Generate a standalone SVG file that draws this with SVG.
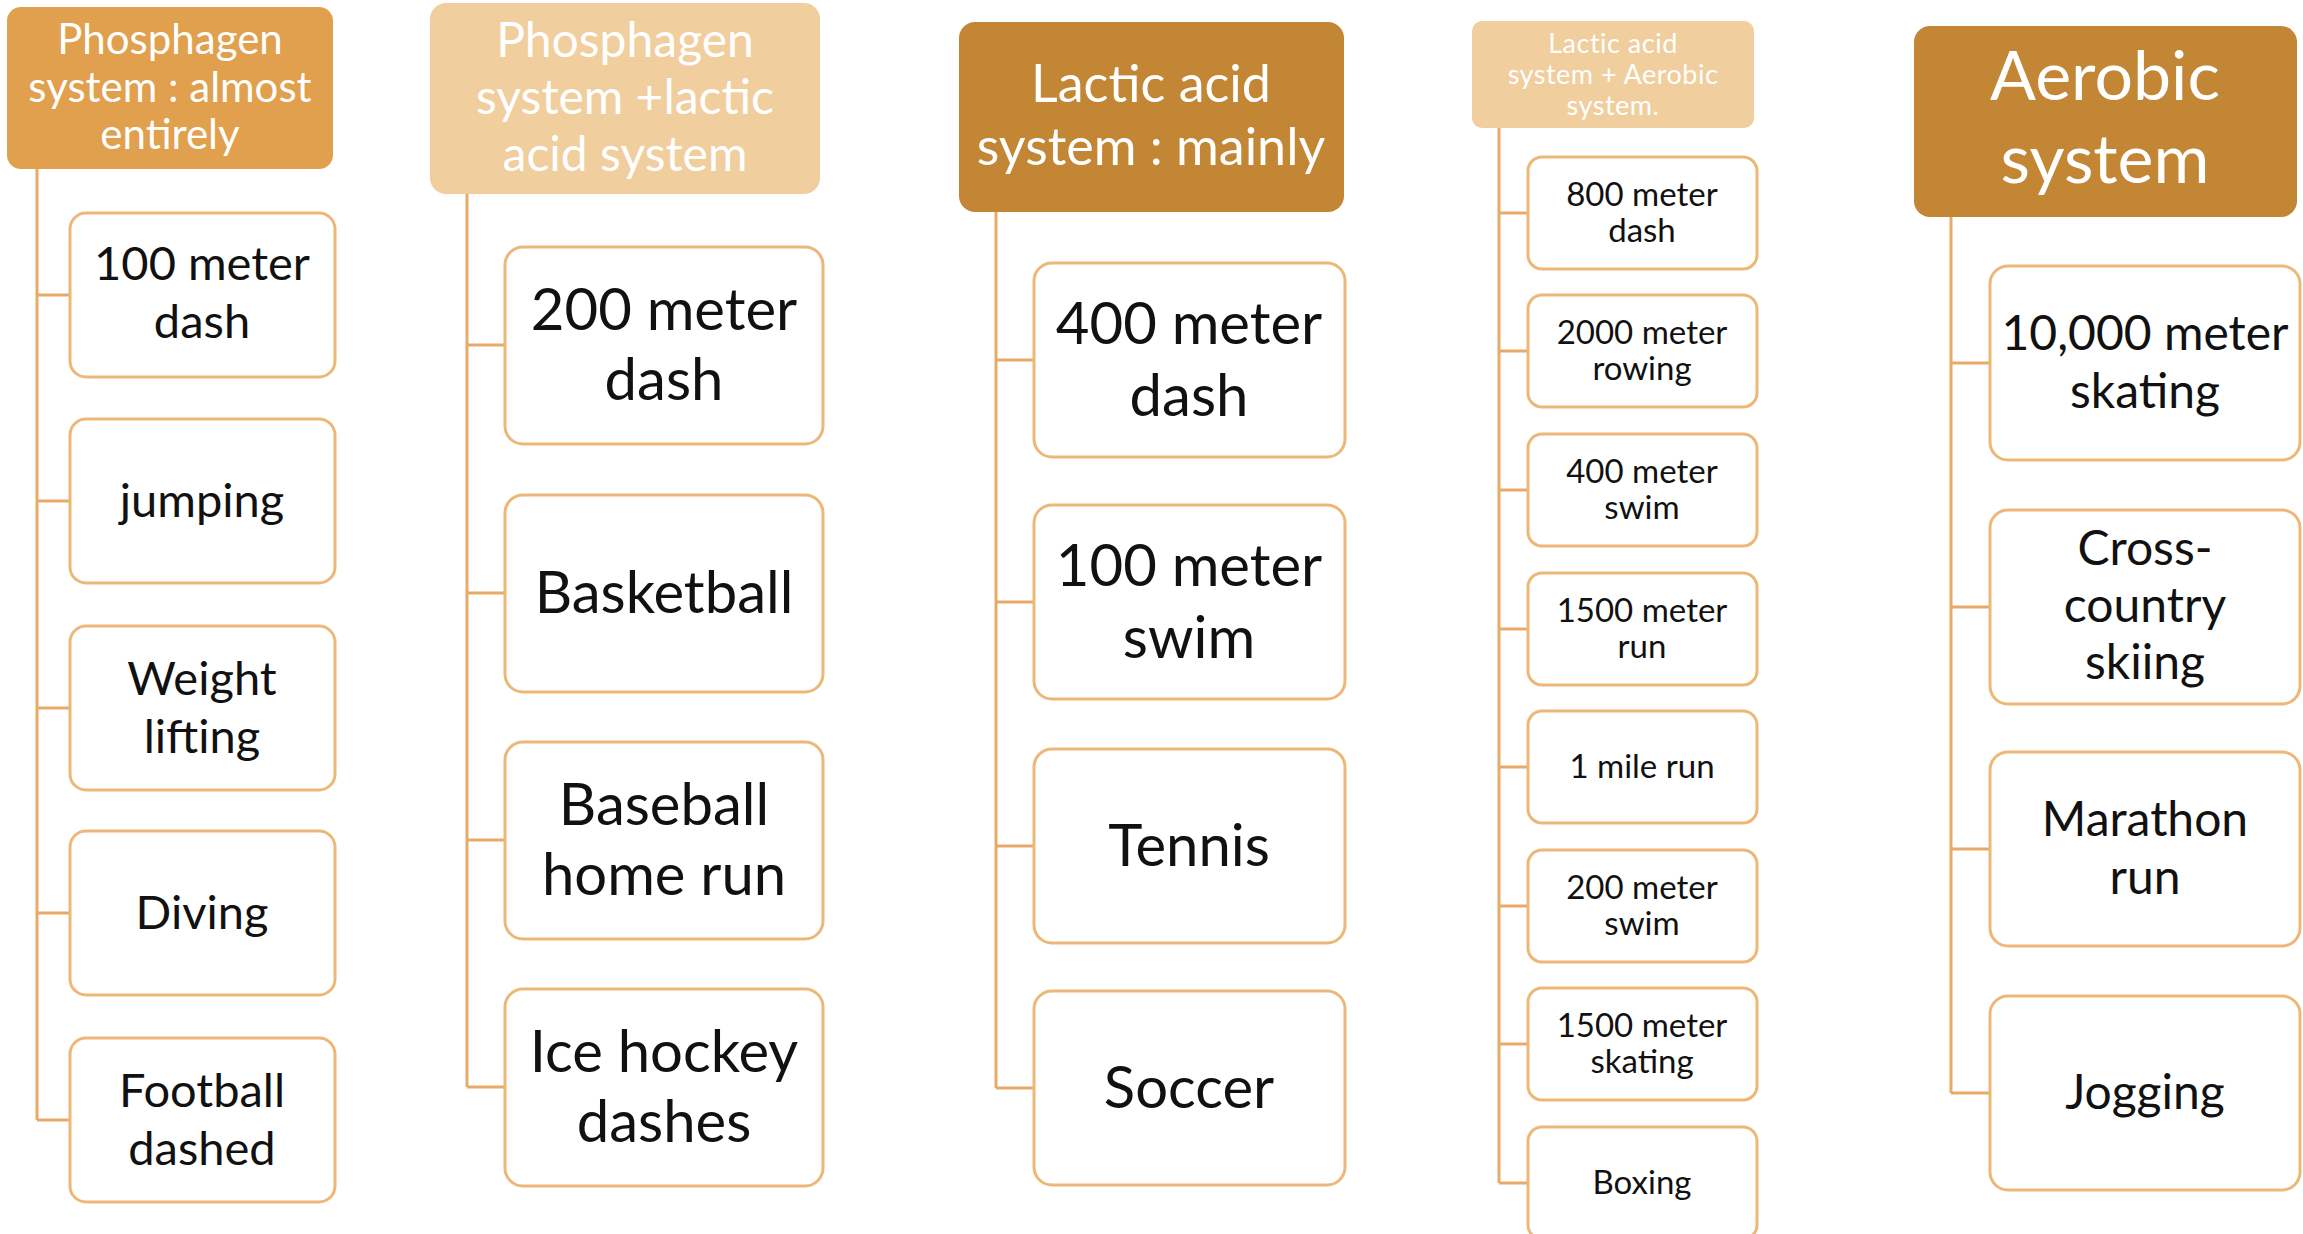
<svg xmlns="http://www.w3.org/2000/svg" width="2303" height="1234" viewBox="0 0 2303 1234">
<style>
.bg{fill:#ffffff}
.h1{fill:#E0A04E}
.hl{fill:#F0CE9E}
.hd{fill:#C28634}
.box{fill:#ffffff;stroke:#EDB877;stroke-width:3}
.con{fill:none;stroke:#E8AA68;stroke-width:3}
.ht{fill:#ffffff;font-family:Lato,"Open Sans","Liberation Sans",sans-serif;text-anchor:middle}
.t{fill:#111111;font-family:Lato,"Open Sans","Liberation Sans",sans-serif;text-anchor:middle}
.c1{font-size:47px}
.c2{font-size:58px}
.c3{font-size:58px}
.c4{font-size:33px}
.c5{font-size:48px}
</style>
<rect class="bg" x="0" y="0" width="2303" height="1234"/>
<g id="connectors">
<path class="con" d="M37 169V1120M37 295H70M37 501H70M37 708H70M37 913H70M37 1120H70"/>
<path class="con" d="M467 194V1087M467 345H505M467 593H505M467 840H505M467 1087H505"/>
<path class="con" d="M996 212V1088M996 360H1034M996 602H1034M996 846H1034M996 1088H1034"/>
<path class="con" d="M1499 128V1183M1499 213H1528M1499 351H1528M1499 490H1528M1499 629H1528M1499 767H1528M1499 906H1528M1499 1044H1528M1499 1183H1528"/>
<path class="con" d="M1951 217V1093M1951 363H1990M1951 607H1990M1951 849H1990M1951 1093H1990"/>
</g>
<g id="h1"><rect class="h1" x="7" y="7" width="326" height="162" rx="14"/>
<text class="ht" font-size="42" x="170" y="54">Phosphagen</text><text class="ht" font-size="42" x="170" y="102">system : almost</text><text class="ht" font-size="42" x="170" y="149">entirely</text></g>
<g id="n1a"><rect class="box" x="70" y="213" width="265" height="164" rx="16"/><text class="t c1" x="202" y="280">100 meter</text><text class="t c1" x="202" y="338">dash</text></g>
<g id="n1b"><rect class="box" x="70" y="419" width="265" height="164" rx="16"/><text class="t c1" x="202" y="517">jumping</text></g>
<g id="n1c"><rect class="box" x="70" y="626" width="265" height="164" rx="16"/><text class="t c1" x="202" y="695">Weight</text><text class="t c1" x="202" y="753">lifting</text></g>
<g id="n1d"><rect class="box" x="70" y="831" width="265" height="164" rx="16"/><text class="t c1" x="202" y="929">Diving</text></g>
<g id="n1e"><rect class="box" x="70" y="1038" width="265" height="164" rx="16"/><text class="t c1" x="202" y="1107">Football</text><text class="t c1" x="202" y="1165">dashed</text></g>
<g id="h2"><rect class="hl" x="430" y="3" width="390" height="191" rx="16"/>
<text class="ht" font-size="48" x="625" y="57">Phosphagen</text><text class="ht" font-size="48" x="625" y="114">system +lactic</text><text class="ht" font-size="48" x="625" y="171">acid system</text></g>
<g id="n2a"><rect class="box" x="505" y="247" width="318" height="197" rx="18"/><text class="t c2" x="664" y="330">200 meter</text><text class="t c2" x="664" y="400">dash</text></g>
<g id="n2b"><rect class="box" x="505" y="495" width="318" height="197" rx="18"/><text class="t c2" x="664" y="613">Basketball</text></g>
<g id="n2c"><rect class="box" x="505" y="742" width="318" height="197" rx="18"/><text class="t c2" x="664" y="825">Baseball</text><text class="t c2" x="664" y="895">home run</text></g>
<g id="n2d"><rect class="box" x="505" y="989" width="318" height="197" rx="18"/><text class="t c2" x="664" y="1072">Ice hockey</text><text class="t c2" x="664" y="1142">dashes</text></g>
<g id="h3"><rect class="hd" x="959" y="22" width="385" height="190" rx="16"/>
<text class="ht" font-size="52" x="1151" y="102">Lactic acid</text><text class="ht" font-size="52" x="1151" y="165">system : mainly</text></g>
<g id="n3a"><rect class="box" x="1034" y="263" width="311" height="194" rx="18"/><text class="t c3" x="1189" y="344">400 meter</text><text class="t c3" x="1189" y="416">dash</text></g>
<g id="n3b"><rect class="box" x="1034" y="505" width="311" height="194" rx="18"/><text class="t c3" x="1189" y="586">100 meter</text><text class="t c3" x="1189" y="658">swim</text></g>
<g id="n3c"><rect class="box" x="1034" y="749" width="311" height="194" rx="18"/><text class="t c3" x="1189" y="866">Tennis</text></g>
<g id="n3d"><rect class="box" x="1034" y="991" width="311" height="194" rx="18"/><text class="t c3" x="1189" y="1108">Soccer</text></g>
<g id="h4"><rect class="hl" x="1472" y="21" width="282" height="107" rx="10"/>
<text class="ht" font-size="27" letter-spacing="0.5" x="1613" y="53">Lactic acid</text><text class="ht" font-size="27" letter-spacing="0.5" x="1613" y="84">system + Aerobic</text><text class="ht" font-size="27" letter-spacing="0.5" x="1613" y="115">system.</text></g>
<g id="n4a"><rect class="box" x="1528" y="157" width="229" height="112" rx="14"/><text class="t c4" x="1642" y="206">800 meter</text><text class="t c4" x="1642" y="242">dash</text></g>
<g id="n4b"><rect class="box" x="1528" y="295" width="229" height="112" rx="14"/><text class="t c4" x="1642" y="344">2000 meter</text><text class="t c4" x="1642" y="380">rowing</text></g>
<g id="n4c"><rect class="box" x="1528" y="434" width="229" height="112" rx="14"/><text class="t c4" x="1642" y="483">400 meter</text><text class="t c4" x="1642" y="519">swim</text></g>
<g id="n4d"><rect class="box" x="1528" y="573" width="229" height="112" rx="14"/><text class="t c4" x="1642" y="622">1500 meter</text><text class="t c4" x="1642" y="658">run</text></g>
<g id="n4e"><rect class="box" x="1528" y="711" width="229" height="112" rx="14"/><text class="t c4" x="1642" y="778">1 mile run</text></g>
<g id="n4f"><rect class="box" x="1528" y="850" width="229" height="112" rx="14"/><text class="t c4" x="1642" y="899">200 meter</text><text class="t c4" x="1642" y="935">swim</text></g>
<g id="n4g"><rect class="box" x="1528" y="988" width="229" height="112" rx="14"/><text class="t c4" x="1642" y="1037">1500 meter</text><text class="t c4" x="1642" y="1073">skating</text></g>
<g id="n4h"><rect class="box" x="1528" y="1127" width="229" height="112" rx="14"/><text class="t c4" x="1642" y="1194">Boxing</text></g>
<g id="h5"><rect class="hd" x="1914" y="26" width="383" height="191" rx="16"/>
<text class="ht" font-size="68" x="2105" y="100">Aerobic</text><text class="ht" font-size="68" x="2105" y="183">system</text></g>
<g id="n5a"><rect class="box" x="1990" y="266" width="310" height="194" rx="18"/><text class="t c5" x="2145" y="350">10,000 meter</text><text class="t c5" x="2145" y="408">skating</text></g>
<g id="n5b"><rect class="box" x="1990" y="510" width="310" height="194" rx="18"/><text class="t c5" x="2145" y="565">Cross-</text><text class="t c5" x="2145" y="622">country</text><text class="t c5" x="2145" y="679">skiing</text></g>
<g id="n5c"><rect class="box" x="1990" y="752" width="310" height="194" rx="18"/><text class="t c5" x="2145" y="836">Marathon</text><text class="t c5" x="2145" y="894">run</text></g>
<g id="n5d"><rect class="box" x="1990" y="996" width="310" height="194" rx="18"/><text class="t c5" x="2145" y="1109">Jogging</text></g>
</svg>
